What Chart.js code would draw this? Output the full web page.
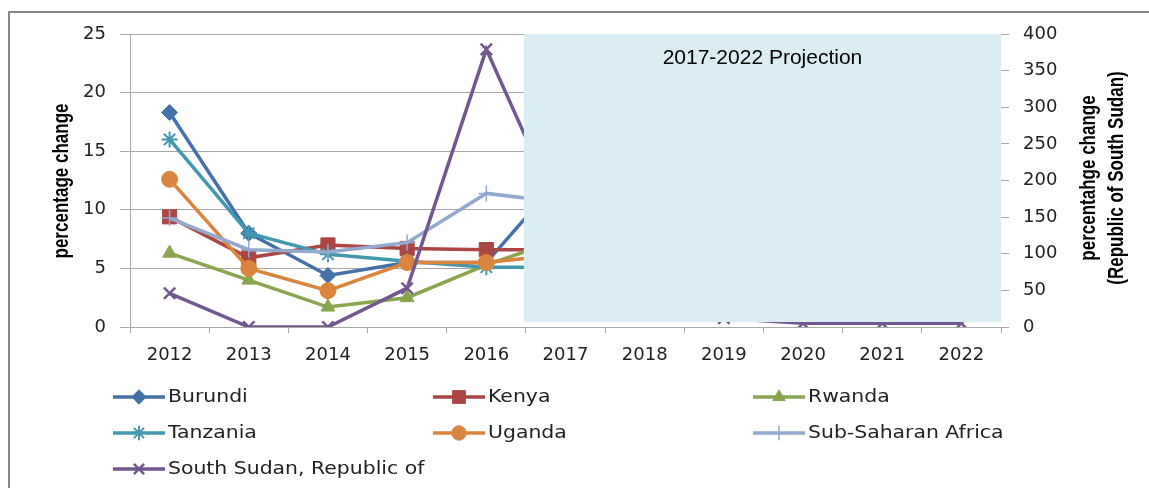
<!DOCTYPE html>
<html>
<head>
<meta charset="utf-8">
<script src="https://cdn.jsdelivr.net/npm/chart.js@4/dist/chart.umd.min.js"></script>
<style>
  html, body { margin: 0; padding: 0; background: #fff; overflow: hidden; }
  #wrap { position: relative; width: 1149px; height: 488px; }
  canvas { display: block; }
</style>
</head>
<body>
<div id="wrap"><canvas id="c" width="1149" height="488"></canvas></div>
<script>
// ---- data ----
const years = ['2012','2013','2014','2015','2016','2017','2018','2019','2020','2021','2022'];
const burundi    = [18.3, 8.0, 4.4, 5.5, 5.5, 13.2, 10.5, 8.0, 6.8, 6.0, 5.5];
const kenya      = [9.4, 5.9, 7.0, 6.7, 6.6, 6.6, 5.8, 5.5, 5.4, 5.3, 5.3];
const rwanda     = [6.3, 4.0, 1.7, 2.5, 5.3, 7.6, 6.0, 5.5, 5.2, 5.0, 5.0];
const tanzania   = [16.0, 8.0, 6.2, 5.6, 5.1, 5.1, 5.0, 4.9, 4.8, 4.8, 4.8];
const uganda     = [12.6, 5.0, 3.1, 5.5, 5.5, 6.2, 5.6, 5.2, 5.1, 5.0, 5.0];
const ssa        = [9.3, 6.6, 6.4, 7.2, 11.4, 10.6, 8.2, 7.4, 7.0, 6.8, 6.7];
const southSudan = [46, 0, 0, 53, 379, 138, 40, 12, 5, 5, 5];
const leftTicks  = [0, 5, 10, 15, 20, 25];
const rightTicks = [0, 50, 100, 150, 200, 250, 300, 350, 400];
const projectionLabel = '2017-2022 Projection';
const leftTitle = 'percentage change';
const rightTitle = ['percentahge change', '(Republic of South Sudan)'];

const series = [
  { label: 'Burundi', data: burundi, color: '#4472A8', style: 'rectRot', r: 8, bw: 1, axis: 'y' },
  { label: 'Kenya', data: kenya, color: '#AA4643', style: 'rect', r: 10, bw: 1, axis: 'y' },
  { label: 'Rwanda', data: rwanda, color: '#89A54E', style: 'triangle', r: 8, bw: 1, axis: 'y' },
  { label: 'Tanzania', data: tanzania, color: '#4198AF', style: 'star', r: 8, bw: 2, axis: 'y' },
  { label: 'Uganda', data: uganda, color: '#DB843D', style: 'circle', r: 8, bw: 1, axis: 'y' },
  { label: 'Sub-Saharan Africa', data: ssa, color: '#93A9CF', style: 'cross', r: 8, bw: 1.5, axis: 'y' },
  { label: 'South Sudan, Republic of', data: southSudan, color: '#71588F', style: 'crossRot', r: 8, bw: 2.5, axis: 'y1' }
];

const GRID = '#A8A8A8';
const TXT = '#222222';
const tickFont = { family: '"DejaVu Sans", sans-serif', size: 18 };

const datasets = series.map((s, i) => ({
  label: s.label,
  data: s.data,
  yAxisID: s.axis,
  borderColor: s.color,
  backgroundColor: s.color,
  borderWidth: 3.5,
  pointStyle: s.style,
  pointRadius: s.r,
  pointHoverRadius: s.r,
  pointBorderWidth: s.bw,
  pointBackgroundColor: s.color,
  pointBorderColor: s.color,
  tension: 0,
  fill: false,
  order: series.length - i
}));

function rotatedText(ctx, text, cx, cy) {
  ctx.save();
  ctx.translate(cx, cy);
  ctx.rotate(-Math.PI / 2);
  ctx.scale(1, 1.3);
  ctx.fillText(text, 0, 0);
  ctx.restore();
}

const decorPlugin = {
  id: 'decor',
  beforeDraw(chart) {
    const ctx = chart.ctx;
    ctx.save();
    ctx.strokeStyle = '#888888';
    ctx.lineWidth = 2;
    ctx.beginPath();
    ctx.moveTo(9, 488);
    ctx.lineTo(9, 12);
    ctx.lineTo(1149, 12);
    ctx.stroke();
    ctx.restore();
  },
  afterDatasetsDraw(chart) {
    const ctx = chart.ctx;
    const ca = chart.chartArea;
    const xs = chart.scales.x;
    const left = xs.getPixelForValue(4.5) - 2;
    const right = ca.right;
    const top = ca.top;
    const bottom = ca.bottom - 5;
    ctx.save();
    ctx.fillStyle = '#DAEDF3';
    ctx.fillRect(left, top, right - left, bottom - top);
    ctx.fillStyle = '#000';
    ctx.font = '21px "Liberation Sans", Arial, sans-serif';
    ctx.textAlign = 'center';
    ctx.textBaseline = 'middle';
    ctx.fillText(projectionLabel, (left + right) / 2, top + 24);
    ctx.restore();
  },
  afterDraw(chart) {
    const ctx = chart.ctx;
    ctx.save();
    // axis titles
    ctx.fillStyle = '#000';
    ctx.font = 'bold 17px "Liberation Sans", Arial, sans-serif';
    ctx.textAlign = 'center';
    ctx.textBaseline = 'middle';
    rotatedText(ctx, leftTitle, 62, 181);
    rotatedText(ctx, rightTitle[0], 1089, 178);
    rotatedText(ctx, rightTitle[1], 1117, 178);

    // legend (3 columns)
    const colX = [113, 433, 753];
    const rowY = [397, 433, 469];
    chart.data.datasets.forEach((ds, i) => {
      const x0 = colX[i % 3];
      const y0 = rowY[Math.floor(i / 3)];
      const s = series[i];
      ctx.strokeStyle = s.color;
      ctx.fillStyle = s.color;
      ctx.lineWidth = 3.5;
      ctx.beginPath();
      ctx.moveTo(x0, y0);
      ctx.lineTo(x0 + 52, y0);
      ctx.stroke();
      ctx.lineWidth = s.bw;
      Chart.helpers.drawPoint(ctx, { pointStyle: s.style, radius: s.r * 0.9, borderWidth: s.bw, rotation: 0 }, x0 + 26, y0);
      ctx.save();
      ctx.fillStyle = TXT;
      ctx.font = '17px "DejaVu Sans", sans-serif';
      ctx.textAlign = 'left';
      ctx.textBaseline = 'middle';
      ctx.translate(x0 + 55, y0 + 1);
      ctx.scale(1.2, 1);
      ctx.fillText(ds.label, 0, 0);
      ctx.restore();
    });
    ctx.restore();
  }
};

new Chart(document.getElementById('c'), {
  type: 'line',
  data: { labels: years, datasets },
  options: {
    responsive: false,
    animation: false,
    devicePixelRatio: 1,
    layout: { padding: { top: 34, left: 0, right: 0, bottom: 0 } },
    plugins: { legend: { display: false }, tooltip: { enabled: false }, title: { display: false } },
    scales: {
      x: {
        type: 'category',
        offset: true,
        grid: { display: true, drawOnChartArea: false, drawTicks: true, tickLength: 6, color: GRID, offset: true },
        border: { display: true, color: GRID, width: 1 },
        ticks: { color: TXT, font: tickFont, padding: 12, maxRotation: 0, autoSkip: false },
        afterFit(s) { s.height = 161; }
      },
      y: {
        position: 'left',
        min: 0, max: 25,
        afterBuildTicks(s) { s.ticks = leftTicks.map(v => ({ value: v })); },
        grid: { color: GRID, tickLength: 10, drawTicks: true },
        border: { display: true, color: GRID, width: 1 },
        ticks: { color: TXT, font: tickFont, padding: 14 },
        afterFit(s) { s.width = 130; }
      },
      y1: {
        position: 'right',
        min: 0, max: 400,
        afterBuildTicks(s) { s.ticks = rightTicks.map(v => ({ value: v })); },
        grid: { drawOnChartArea: false, color: GRID, tickLength: 8, drawTicks: true },
        border: { display: false },
        ticks: { color: TXT, font: tickFont, padding: 14 },
        afterFit(s) { s.width = 148; }
      }
    }
  },
  plugins: [decorPlugin]
});
</script>
</body>
</html>
